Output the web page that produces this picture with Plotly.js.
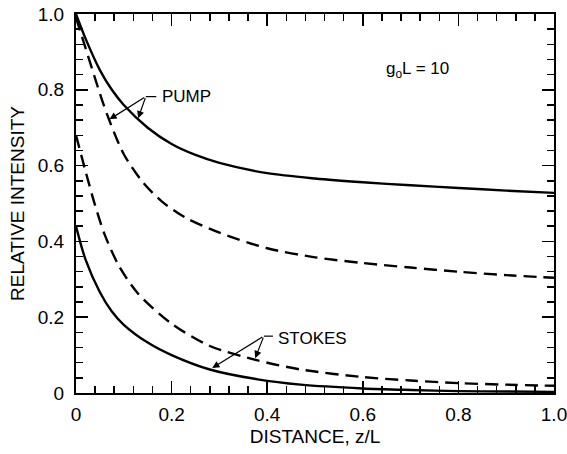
<!DOCTYPE html>
<html><head><meta charset="utf-8">
<script src="https://cdn.plot.ly/plotly-3.0.1.min.js"></script>
<style>html,body{margin:0;padding:0;background:#fff}#chart{width:567px;height:454px}</style>
</head><body><div id="chart"></div>
<script>
// Pump (solid)
var pumpSolidX = [0, 0.02, 0.05, 0.075, 0.1, 0.15, 0.2, 0.25, 0.3, 0.4, 0.5, 0.6, 0.7, 0.8, 0.9, 1.0];
var pumpSolidY = [1.0, 0.935, 0.852, 0.8, 0.76, 0.70, 0.657, 0.628, 0.607, 0.58, 0.566, 0.556, 0.548, 0.541, 0.534, 0.528];
// Pump (dashed)
var pumpDashX = [0, 0.02, 0.045, 0.065, 0.1, 0.14, 0.18, 0.23, 0.3, 0.4, 0.5, 0.6, 0.7, 0.8, 0.9, 1.0];
var pumpDashY = [0.99, 0.91, 0.81, 0.735, 0.63, 0.556, 0.505, 0.462, 0.423, 0.382, 0.358, 0.343, 0.331, 0.32, 0.311, 0.304];
// Stokes (dashed)
var stokesDashX = [0, 0.02, 0.04, 0.06, 0.09, 0.13, 0.2, 0.28, 0.38, 0.47, 0.6, 0.7, 0.8, 0.9, 1.0];
var stokesDashY = [0.68, 0.585, 0.495, 0.418, 0.335, 0.262, 0.183, 0.124, 0.086, 0.062, 0.042, 0.033, 0.026, 0.022, 0.019];
// Stokes (solid)
var stokesSolidX = [0, 0.02, 0.05, 0.075, 0.1, 0.15, 0.2, 0.28, 0.38, 0.47, 0.6, 0.7, 0.8, 0.9, 1.0];
var stokesSolidY = [0.44, 0.352, 0.266, 0.215, 0.18, 0.133, 0.1, 0.062, 0.036, 0.022, 0.012, 0.008, 0.005, 0.004, 0.003];

var tickVals = [0, 0.2, 0.4, 0.6, 0.8, 1.0];
var tickText = ['0', '0.2', '0.4', '0.6', '0.8', '1.0'];

var FONT = 'Liberation Sans, Arial, sans-serif';

function tr(x, y, dash) {
  return {x: x, y: y, type: 'scatter', mode: 'lines',
    line: {color: '#000', width: 2.4, dash: dash, shape: 'spline', smoothing: 0.8},
    hoverinfo: 'skip', showlegend: false};
}
var data = [
  tr(pumpSolidX, pumpSolidY, 'solid'),
  tr(pumpDashX, pumpDashY, '13px,7px'),
  tr(stokesDashX, stokesDashY, '13px,7px'),
  tr(stokesSolidX, stokesSolidY, 'solid'),
  {x: [], y: [], xaxis: 'x2', yaxis: 'y2', type: 'scatter', mode: 'lines', showlegend: false, hoverinfo: 'skip'}
];

var minorTicks = {tickmode: 'linear', tick0: 0, dtick: 0.04, ticks: 'inside', ticklen: 7, tickwidth: 1.5, tickcolor: '#000', showgrid: false};
function axis(extra) {
  var a = {range: [0, 1], tickmode: 'array', tickvals: tickVals, ticktext: tickText,
    ticks: 'inside', ticklen: 12, tickwidth: 1.5, tickcolor: '#000',
    showline: true, linecolor: '#000', linewidth: 2, mirror: 'allticks',
    showgrid: false, zeroline: false, ticklabeloverflow: 'allow',
    tickfont: {family: FONT, size: 19, color: '#000'},
    minor: minorTicks
  };
  for (var k in extra) a[k] = extra[k];
  return a;
}

var annFont = {family: FONT, size: 17, color: '#000'};
var titleFont = {family: FONT, size: 19, color: '#000'};
var layout = {
  width: 567, height: 454,
  margin: {l: 76, r: 13, t: 14, b: 61},
  paper_bgcolor: '#fff', plot_bgcolor: '#fff',
  xaxis: axis({ticklabelstandoff: 3, title: {text: 'DISTANCE, z/L', font: titleFont, standoff: 6}}),
  yaxis: axis({ticklabelstandoff: 6, title: {text: 'RELATIVE INTENSITY', font: titleFont, standoff: 8}}),
  xaxis2: axis({overlaying: 'x', side: 'top', anchor: 'y', showticklabels: false, mirror: false, showline: false}),
  yaxis2: axis({overlaying: 'y', side: 'right', anchor: 'x', showticklabels: false, mirror: false, showline: false}),
  annotations: [
    {x: 0.175, y: 0.782, xref: 'x', yref: 'y', text: 'PUMP', showarrow: false, xanchor: 'left', yanchor: 'middle', font: annFont},
    {x: 0.419, y: 0.145, xref: 'x', yref: 'y', text: 'STOKES', showarrow: false, xanchor: 'left', yanchor: 'middle', font: annFont},
    {x: 0.645, y: 0.852, xref: 'x', yref: 'y', text: 'g<sub>o</sub>L = 10', showarrow: false, xanchor: 'left', yanchor: 'middle', font: annFont},
    // pump arrows
    {x: 0.07, y: 0.722, ax: 0.146, ay: 0.782, xref: 'x', yref: 'y', axref: 'x', ayref: 'y', text: '', showarrow: true, arrowhead: 2, arrowsize: 1.2, arrowwidth: 1.2, arrowcolor: '#000'},
    {x: 0.13, y: 0.725, ax: 0.146, ay: 0.782, xref: 'x', yref: 'y', axref: 'x', ayref: 'y', text: '', showarrow: true, arrowhead: 2, arrowsize: 1.2, arrowwidth: 1.2, arrowcolor: '#000'},
    // stokes arrows
    {x: 0.285, y: 0.066, ax: 0.393, ay: 0.15, xref: 'x', yref: 'y', axref: 'x', ayref: 'y', text: '', showarrow: true, arrowhead: 2, arrowsize: 1.2, arrowwidth: 1.2, arrowcolor: '#000'},
    {x: 0.375, y: 0.092, ax: 0.393, ay: 0.15, xref: 'x', yref: 'y', axref: 'x', ayref: 'y', text: '', showarrow: true, arrowhead: 2, arrowsize: 1.2, arrowwidth: 1.2, arrowcolor: '#000'}
  ],
  shapes: [
    {type: 'line', xref: 'x', yref: 'y', x0: 0.146, y0: 0.782, x1: 0.168, y1: 0.782, line: {color: '#000', width: 1.2}},
    {type: 'line', xref: 'x', yref: 'y', x0: 0.393, y0: 0.15, x1: 0.412, y1: 0.15, line: {color: '#000', width: 1.2}}
  ]
};

Plotly.newPlot('chart', data, layout, {staticPlot: true, displayModeBar: false});
</script></body></html>
